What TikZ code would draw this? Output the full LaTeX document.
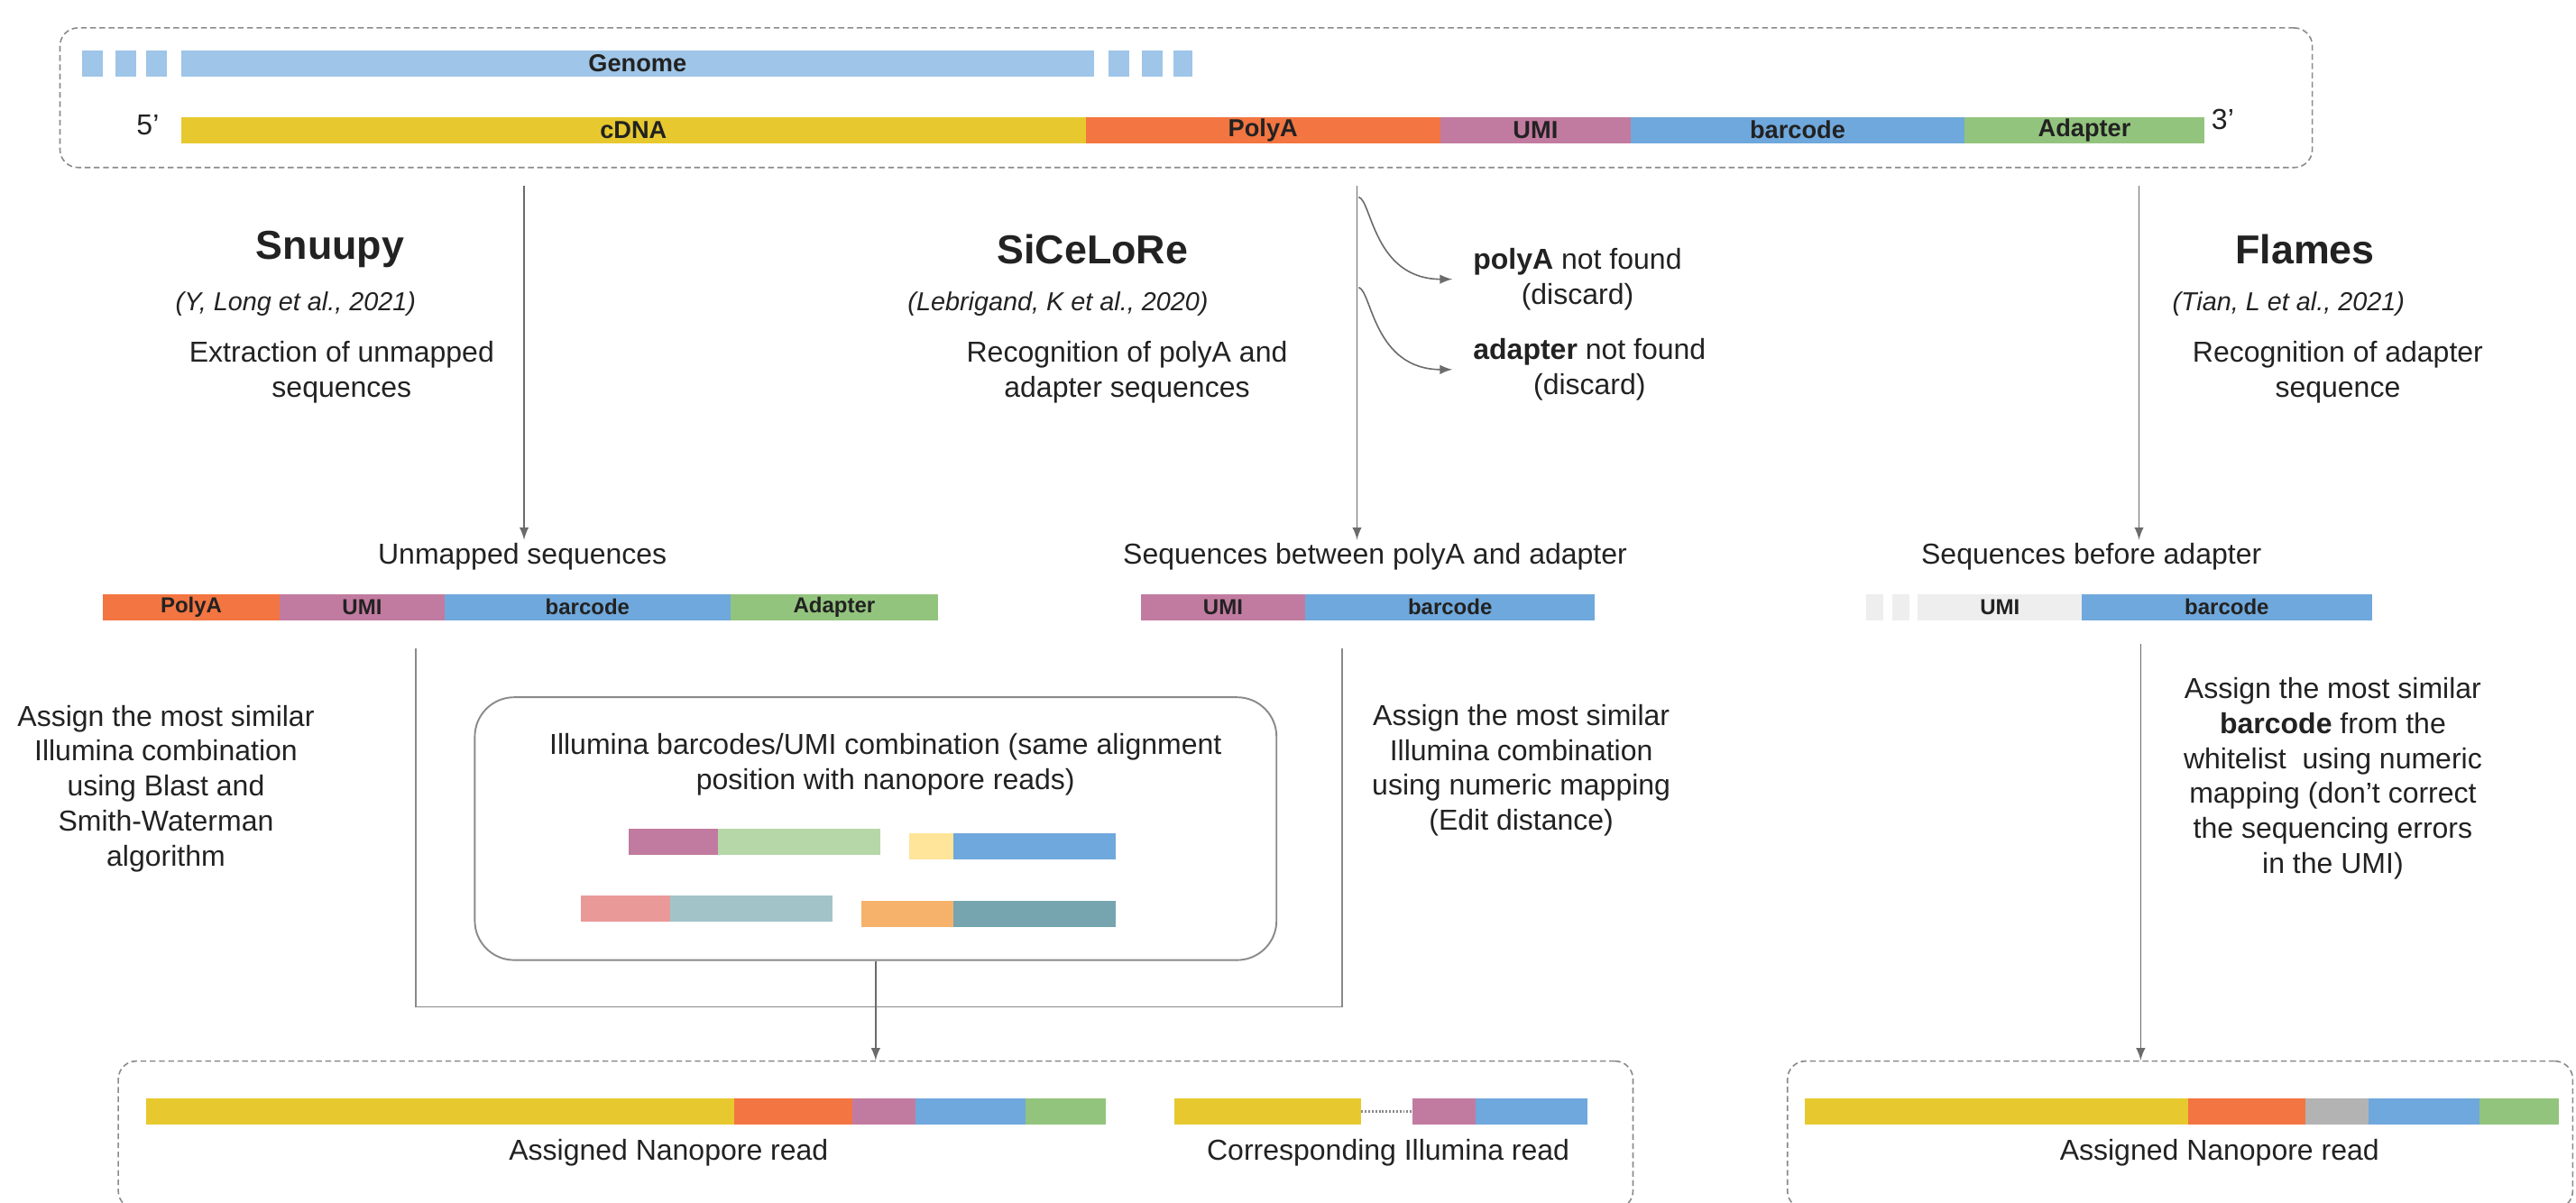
\documentclass[tikz,border=0pt]{standalone}
\usepackage{fontspec}
\setmainfont{Liberation Sans}
\usepackage{tikz}
\usepackage{xcolor}
\definecolor{FontColor}{HTML}{222222}
\definecolor{LineColor}{HTML}{6B6B6B}
\definecolor{BoxColor}{HTML}{8A8A8A}
\definecolor{GenomeColor}{HTML}{9FC5E8}
\definecolor{CdnaColor}{HTML}{E7C92F}
\definecolor{PolyAColor}{HTML}{F37541}
\definecolor{UmiColor}{HTML}{C27BA0}
\definecolor{BarcodeColor}{HTML}{6FA8DC}
\definecolor{AdapterColor}{HTML}{93C47D}
\definecolor{PaleUmiColor}{HTML}{EEEEEE}
\definecolor{GreyUmiColor}{HTML}{B3B3B3}
\definecolor{LightGreen}{HTML}{B6D7A8}
\definecolor{LightYellow}{HTML}{FFE599}
\definecolor{LightRed}{HTML}{EA9999}
\definecolor{LightCyan}{HTML}{A2C4C9}
\definecolor{LightOrange}{HTML}{F6B26B}
\definecolor{DarkCyan}{HTML}{76A5AF}
\newcommand\uu{0.02cm}
\newcommand\lblextract{Extraction of unmapped\\sequences}
\newcommand\lblrecpa{Recognition of polyA and\\adapter sequences}
\newcommand\lblrecad{Recognition of adapter\\sequence}
\newcommand\lblblast{Assign the most similar\\Illumina combination\\using Blast and\\Smith-Waterman\\algorithm}
\newcommand\lbledit{Assign the most similar\\Illumina combination\\using numeric mapping\\(Edit distance)}
\newcommand\lblwhite{Assign the most similar\\\textbf{barcode} from the\\whitelist\ \ using numeric\\mapping (don’t correct\\the sequencing errors\\in the UMI)}
\newcommand\lblillu{Illumina barcodes/UMI combination (same alignment\\position with nanopore reads)}
\tikzstyle{seg} = [rectangle, anchor=west, inner sep=0pt, outer sep=0pt, minimum height=15.8*\uu, text=FontColor, font=\fontsize{8.5}{10}\selectfont\bfseries]
\tikzstyle{sseg} = [seg, font=\fontsize{7.5}{9}\selectfont\bfseries]
\tikzstyle{txt} = [align=center, inner sep=1pt, text=FontColor, font=\fontsize{10}{12.1}\selectfont]
\tikzstyle{ttl} = [txt, font=\fontsize{14}{17}\selectfont\bfseries]
\tikzstyle{cite} = [txt, font=\fontsize{9}{11}\selectfont\itshape]
\tikzstyle{dashbox} = [rectangle, draw=BoxColor, dash pattern=on 2pt off 1.2pt, rounded corners=0.22cm]
\tikzstyle{ibox} = [rectangle, draw=BoxColor, line width=0.6pt, rounded corners=0.48cm]
\tikzstyle{conn} = [draw=LineColor]
\tikzset{>=latex, every picture/.style={line width=0.5pt}}

\begin{document}
\begin{tikzpicture}[x=\uu, y=-\uu]
\useasboundingbox (0,0) rectangle (1568,732);
% boxes
\node[dashbox, minimum width=1371*\uu, minimum height=85*\uu] (topbox) at (722,59.5) {};
\node[ibox, minimum width=488*\uu, minimum height=160*\uu] (illu) at (533,504.5) {};
\node[dashbox, minimum width=922*\uu, minimum height=90*\uu] (lbox) at (533,691) {};
\node[dashbox, minimum width=478*\uu, minimum height=90*\uu] (rbox) at (1327,691) {};
% genome and cDNA
\node[seg, fill=GenomeColor, minimum width=12.7*\uu] (g1) at (49.8,38.6) {};
\node[seg, fill=GenomeColor, minimum width=12.7*\uu] (g2) at (70.3,38.6) {};
\node[seg, fill=GenomeColor, minimum width=12.7*\uu] (g3) at (89,38.6) {};
\node[seg, fill=GenomeColor, minimum width=555.3*\uu] (genome) at (110.4,38.6) {Genome};
\node[seg, fill=GenomeColor, minimum width=12.4*\uu] (g4) at (675,38.6) {};
\node[seg, fill=GenomeColor, minimum width=12.4*\uu] (g5) at (695.3,38.6) {};
\node[seg, fill=GenomeColor, minimum width=11.8*\uu] (g6) at (714,38.6) {};
\node[seg, fill=CdnaColor, minimum width=550.4*\uu] (cdna) at (110.4,79.2) {cDNA};
\node[seg, fill=PolyAColor, minimum width=215.9*\uu] (polya) at (660.8,79.2) {PolyA};
\node[seg, fill=UmiColor, minimum width=115.9*\uu] (umi) at (876.7,79.2) {UMI};
\node[seg, fill=BarcodeColor, minimum width=203.2*\uu] (bc) at (992.6,79.2) {barcode};
\node[seg, fill=AdapterColor, minimum width=146*\uu] (adapt) at (1195.8,79.2) {Adapter};
\node[txt] (five) at (90,76) {5’};
\node[txt] (three) at (1353,73) {3’};
% tools
\node[ttl] (snt) at (201,152) {Snuupy};
\node[cite] (snc) at (180,185) {(Y, Long et al., 2021)};
\node[txt] (snd) at (208,226.5) {\lblextract};
\node[ttl] (sct) at (665,152) {SiCeLoRe};
\node[cite] (scc) at (644,185) {(Lebrigand, K et al., 2020)};
\node[txt] (scd) at (686,226.5) {\lblrecpa};
\node[ttl] (flt) at (1403,152) {Flames};
\node[cite] (flc) at (1393,185) {(Tian, L et al., 2021)};
\node[txt] (fld) at (1423,226.5) {\lblrecad};
\node[txt, anchor=west, inner xsep=7pt] (pa) at (884,170) {\textbf{polyA} not found\\(discard)};
\node[txt, anchor=west, inner xsep=7pt] (ad) at (884,225) {\textbf{adapter} not found\\(discard)};
% extracted sequences
\node[txt] (snlab) at (318,339) {Unmapped sequences};
\node[txt] (sclab) at (837,339) {Sequences between polyA and adapter};
\node[txt] (fllab) at (1273,339) {Sequences before adapter};
\node[sseg, fill=PolyAColor, minimum width=107.8*\uu] (snpa) at (62.5,369.7) {PolyA};
\node[sseg, fill=UmiColor, minimum width=100.2*\uu] (snumi) at (170.3,369.7) {UMI};
\node[sseg, fill=BarcodeColor, minimum width=174.2*\uu] (snbc) at (270.5,369.7) {barcode};
\node[sseg, fill=AdapterColor, minimum width=126.2*\uu] (snad) at (444.7,369.7) {Adapter};
\node[sseg, fill=UmiColor, minimum width=99.9*\uu] (scumi) at (694.5,369.7) {UMI};
\node[sseg, fill=BarcodeColor, minimum width=176.5*\uu] (scbc) at (794.4,369.7) {barcode};
\node[sseg, fill=PaleUmiColor, minimum width=10.5*\uu] (flp1) at (1135.9,369.7) {};
\node[sseg, fill=PaleUmiColor, minimum width=10.5*\uu] (flp2) at (1151.6,369.7) {};
\node[sseg, fill=PaleUmiColor, minimum width=99.8*\uu] (flumi) at (1167.4,369.7) {UMI};
\node[sseg, fill=BarcodeColor, minimum width=176.5*\uu] (flbc) at (1267.2,369.7) {barcode};
% assignment
\node[txt] (blast) at (101,480) {\lblblast};
\node[txt] (edit) at (926,469) {\lbledit};
\node[txt] (white) at (1420,474) {\lblwhite};
\node[txt] (illutxt) at (539,465.5) {\lblillu};
\node[seg, fill=UmiColor, minimum width=54.5*\uu] (ia1) at (382.6,512.5) {};
\node[seg, fill=LightGreen, minimum width=98.6*\uu] (ia2) at (437.1,512.5) {};
\node[seg, fill=LightYellow, minimum width=27.1*\uu] (ib1) at (553.4,515.2) {};
\node[seg, fill=BarcodeColor, minimum width=98.7*\uu] (ib2) at (580.5,515.2) {};
\node[seg, fill=LightRed, minimum width=54.5*\uu] (ic1) at (353.6,553.1) {};
\node[seg, fill=LightCyan, minimum width=98.6*\uu] (ic2) at (408.1,553.1) {};
\node[seg, fill=LightOrange, minimum width=56.1*\uu] (id1) at (524.4,556.4) {};
\node[seg, fill=DarkCyan, minimum width=98.7*\uu] (id2) at (580.5,556.4) {};
% assigned reads
\node[seg, fill=CdnaColor, minimum width=358*\uu] (ny) at (88.7,676.6) {};
\node[seg, fill=PolyAColor, minimum width=71.9*\uu] (no) at (446.7,676.6) {};
\node[seg, fill=UmiColor, minimum width=38.4*\uu] (nu) at (518.6,676.6) {};
\node[seg, fill=BarcodeColor, minimum width=67.5*\uu] (nb) at (557,676.6) {};
\node[seg, fill=AdapterColor, minimum width=48.5*\uu] (ng) at (624.5,676.6) {};
\node[seg, fill=CdnaColor, minimum width=114.1*\uu] (iy) at (714.6,676.6) {};
\node[seg, fill=UmiColor, minimum width=38.4*\uu] (iu) at (859.6,676.6) {};
\node[seg, fill=BarcodeColor, minimum width=68.1*\uu] (ib) at (898,676.6) {};
\node[seg, fill=CdnaColor, minimum width=233.5*\uu] (ry) at (1098.5,676.6) {};
\node[seg, fill=PolyAColor, minimum width=71.3*\uu] (ro) at (1332,676.6) {};
\node[seg, fill=GreyUmiColor, minimum width=38.5*\uu] (ru) at (1403.3,676.6) {};
\node[seg, fill=BarcodeColor, minimum width=67.5*\uu] (rb) at (1441.8,676.6) {};
\node[seg, fill=AdapterColor, minimum width=48.2*\uu] (rg) at (1509.3,676.6) {};
\node[txt] (nlab) at (407,702) {Assigned Nanopore read};
\node[txt] (ilab) at (845,702) {Corresponding Illumina read};
\node[txt] (rlab) at (1351,702) {Assigned Nanopore read};
% connectors
\coordinate (snsrc) at (319,113);
\coordinate (scsrc) at (826,113);
\coordinate (flsrc) at (1302,113);
\coordinate (pasrc) at (827,120);
\coordinate (adsrc) at (827,175);
\coordinate (brl) at (253,395);
\coordinate (brr) at (817,395);
\coordinate (fldown) at (1303,392);
\draw [conn, ->] (snsrc) -- (snsrc |- snlab.north);
\draw [conn, ->] (scsrc) -- (scsrc |- sclab.north);
\draw [conn, ->] (flsrc) -- (flsrc |- fllab.north);
\draw [conn, ->] (pasrc) .. controls (835,122) and (836,170) .. (pa.west);
\draw [conn, ->] (adsrc) .. controls (835,177) and (836,225) .. (ad.west);
\draw [draw=BoxColor, line width=0.6pt] (brl) -- ++(0,218) -| (brr);
\draw [conn, ->] (illu) -- (lbox);
\draw [conn, ->] (fldown) -- (fldown |- rbox.north);
\draw [draw=BoxColor, dash pattern=on 0.6pt off 0.6pt, line width=0.8pt] (iy.east) -- (iu.west);
\end{tikzpicture}
\end{document}
